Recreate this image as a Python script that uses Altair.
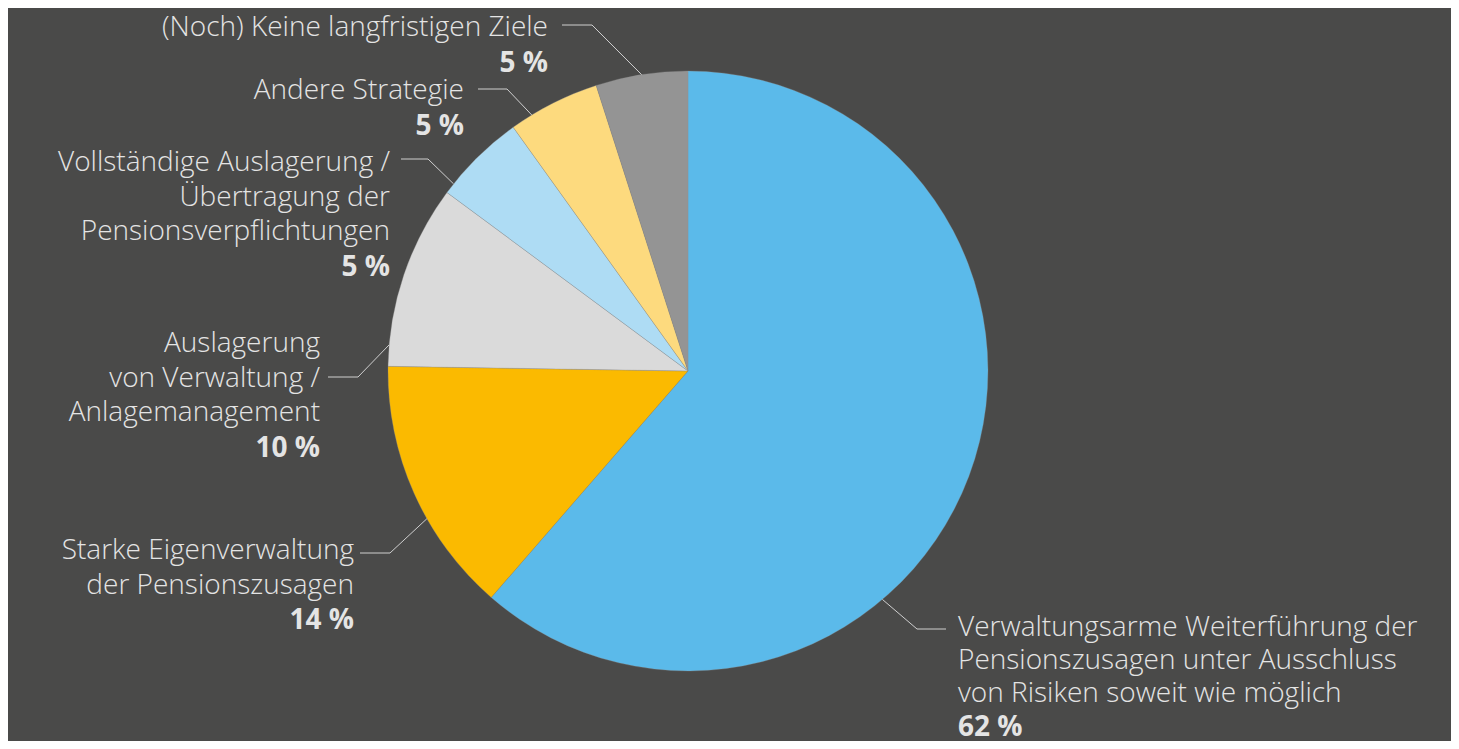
import math
import altair as alt
import pandas as pd

# ---------------- data ----------------
categories = [
    "Verwaltungsarme Weiterführung der Pensionszusagen unter Ausschluss von Risiken soweit wie möglich",
    "Starke Eigenverwaltung der Pensionszusagen",
    "Auslagerung von Verwaltung / Anlagemanagement",
    "Vollständige Auslagerung / Übertragung der Pensionsverpflichtungen",
    "Andere Strategie",
    "(Noch) Keine langfristigen Ziele",
]
values = [62, 14, 10, 5, 5, 5]
pct_labels = ["62 %", "14 %", "10 %", "5 %", "5 %", "5 %"]
label_lines = [
    ["Verwaltungsarme Weiterführung der", "Pensionszusagen unter Ausschluss", "von Risiken soweit wie möglich"],
    ["Starke Eigenverwaltung", "der Pensionszusagen"],
    ["Auslagerung", "von Verwaltung /", "Anlagemanagement"],
    ["Vollständige Auslagerung /", "Übertragung der", "Pensionsverpflichtungen"],
    ["Andere Strategie"],
    ["(Noch) Keine langfristigen Ziele"],
]
colors = ["#5BBAEA", "#FBBA00", "#DADADA", "#AEDCF4", "#FDDA7E", "#949494"]

# ---------------- layout (page pixels) ----------------
W, H = 1443, 733
OFF = 8
CX, CY, R = 688, 371, 300
BG = "#4A4A49"
TXT = "#E4E4E4"
LINE_C = "#CFCFCF"
FONT = "Open Sans"
FS = 28
# label anchor: (x, first line center y, align, line height)
label_pos = [
    (958, 628, "left", 33),
    (354, 551, "right", 34.5),
    (320, 344, "right", 34.5),
    (390, 163, "right", 34.5),
    (464, 91, "right", 34.5),
    (548, 28, "right", 34.5),
]
# leader line: angle on pie edge (deg clockwise from top), elbow point, end x
leaders = [
    (139.6, (917, 629), 946),
    (240.5, (390, 553), 360),
    (275.0, (358, 377), 328),
    (308.6, (428, 159), 401),
    (328.6, (507, 89), 478),
    (351.1, (592, 25), 562),
]

xs = alt.Scale(domain=[OFF, OFF + W], nice=False, zero=False)
ys = alt.Scale(domain=[OFF, OFF + H], nice=False, zero=False, reverse=True)

# ---------------- pie ----------------
pie_df = pd.DataFrame({"category": categories, "value": values, "order": list(range(len(values)))})
pie = alt.Chart(pie_df).mark_arc(outerRadius=R, stroke="#8f8f8f", strokeWidth=0.3).encode(
    theta=alt.Theta("value:Q", stack=True),
    color=alt.Color("category:N", scale=alt.Scale(domain=categories, range=colors), legend=None),
    order=alt.Order("order:Q"),
    x=alt.value(CX - OFF),
    y=alt.value(CY - OFF),
)

# ---------------- leader lines ----------------
rows = []
for i, (ang, (ex, ey), endx) in enumerate(leaders):
    a = math.radians(ang)
    px, py = CX + R * math.sin(a), CY - R * math.cos(a)
    for k, (x, y) in enumerate([(px, py), (ex, ey), (endx, ey)]):
        rows.append({"cat": categories[i], "k": k, "x": x, "y": y})
line_df = pd.DataFrame(rows)
lines = alt.Chart(line_df).mark_line(color=LINE_C, strokeWidth=1).encode(
    x=alt.X("x:Q", scale=xs, axis=None),
    y=alt.Y("y:Q", scale=ys, axis=None),
    detail="cat:N",
    order="k:Q",
)

# ---------------- labels ----------------
trows = []
for i, lines_ in enumerate(label_lines):
    lx, ly, al, lh = label_pos[i]
    for j, t in enumerate(lines_):
        trows.append({"x": lx, "y": ly + j * lh, "t": t, "al": al, "bold": False})
    trows.append({"x": lx, "y": ly + len(lines_) * lh + 1, "t": pct_labels[i], "al": al, "bold": True})
tdf = pd.DataFrame(trows)

def text_layer(al, bold):
    d = tdf[(tdf["al"] == al) & (tdf["bold"] == bold)]
    return alt.Chart(d).mark_text(
        align=al, baseline="middle", font=FONT, fontSize=FS,
        fontWeight="bold" if bold else 300, color=TXT,
    ).encode(
        x=alt.X("x:Q", scale=xs, axis=None),
        y=alt.Y("y:Q", scale=ys, axis=None),
        text="t:N",
    )

texts = [text_layer(a, b) for a in ["left", "right"] for b in [False, True]]

chart = alt.layer(pie, lines, *texts).properties(
    width=W, height=H, padding=0, autosize=alt.AutoSizeParams(type="none"), background=BG,
).configure_view(stroke=None)

chart.save("out.html", embed_options={"renderer": "svg", "actions": False})
